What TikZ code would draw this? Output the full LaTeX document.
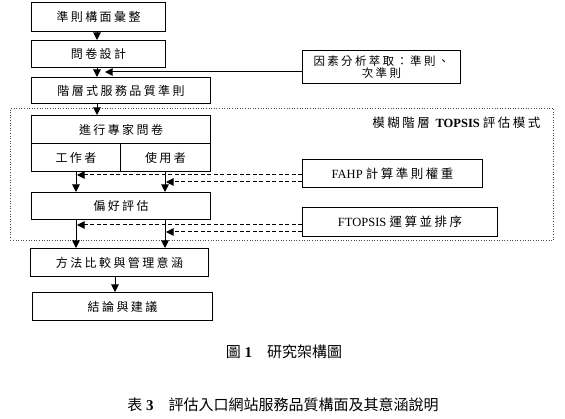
\documentclass[tikz,border=0pt]{standalone}
\usepackage{fontspec}
\setmainfont{Liberation Serif}
\newfontfamily\cjk[LetterSpace=20]{Noto Sans CJK TC}
\newfontfamily\cjkcap{Noto Sans CJK TC}
\usetikzlibrary{arrows.meta}
\tikzset{
  box/.style={draw, line width=1pt, inner sep=0pt, anchor=north west, font=\fontsize{12}{14}\selectfont},
  arr/.style={line width=1pt, -{Triangle[length=7.5pt,width=7.5pt]}},
  darr/.style={line width=1pt, dash pattern=on 4pt off 2.5pt, -{Triangle[length=7.5pt,width=7.5pt]}},
  captext/.style={font=\fontsize{15}{17}\selectfont},
}
\newcommand{\bx}[6]{\node[box, minimum width=#4pt-#2pt, minimum height=#5pt-#3pt] (#1) at (#2,#3) {#6};}
\begin{document}
\begin{tikzpicture}[x=1pt,y=-1pt]
\useasboundingbox (0,0) rectangle (565,419);
% dotted frame
\node[draw=black!70, dotted, line width=0.6pt, anchor=north west, minimum width=543pt, minimum height=132pt, inner sep=0pt] (frame) at (10,108) {};
\node[anchor=east, font=\fontsize{12.5}{14}\selectfont] (title) at (544,123) {{\cjk 模糊階層} \textbf{TOPSIS} {\cjk 評估模式}};
\bx{b1}{31}{2}{165}{31}{\cjk 準則構面彙整}
\bx{b2}{31}{40}{165}{67}{\cjk 問卷設計}
\bx{b3}{31}{77}{210}{103}{\cjk 階層式服務品質準則}
\node[box, minimum width=158pt, minimum height=33pt, align=center, font=\fontsize{11.5}{13}\selectfont] (fac) at (302,50) {\cjk 因素分析萃取：準則、\\[-1pt]\cjk 次準則};
\bx{b4}{31}{115}{210}{143}{\cjk 進行專家問卷}
\bx{b5a}{31}{143}{120}{171}{\cjk 工作者}
\bx{b5b}{120}{143}{210}{171}{\cjk 使用者}
\bx{b6}{31}{192}{210}{219}{\cjk 偏好評估}
\node[box, minimum width=180pt, minimum height=28pt, font=\fontsize{12.5}{14}\selectfont] (fahp) at (302,159) {FAHP {\cjk 計算準則權重}};
\node[box, minimum width=195pt, minimum height=29pt, font=\fontsize{12.5}{14}\selectfont] (ftop) at (302,207) {FTOPSIS {\cjk 運算並排序}};
\bx{b7}{30}{248}{208}{276}{\cjk 方法比較與管理意涵}
\bx{b8}{32}{292}{212}{320}{\cjk 結論與建議}
% arrows
\draw[arr] (b1.south -| 97,0) -- (b2.north -| 97,0);
\draw[arr] (b2.south -| 97,0) -- (b3.north -| 97,0);
\coordinate (fb) at (105,72);
\draw[arr] (fac.west |- fb) -- (fb);
\draw[arr] (b3.south -| 97,0) -- (b4.north -| 97,0);
\draw[arr] (b5a.south -| 76,0) -- (b6.north -| 76,0);
\draw[arr] (b5b.south -| 165,0) -- (b6.north -| 165,0);
\draw[arr] (b6.south -| 76,0) -- (b7.north -| 76,0);
\draw[arr] (b6.south -| 165,0) -- (b7.north -| 165,0);
\draw[arr] (b7.south -| 115,0) -- (b8.north -| 115,0);
% dashed
\coordinate (t1) at (77,175);
\coordinate (t2) at (166,182);
\coordinate (t3) at (77,225);
\coordinate (t4) at (166,232);
\draw[darr] (fahp.west |- t1) -- (t1);
\draw[darr] (fahp.west |- t2) -- (t2);
\draw[darr] (ftop.west |- t3) -- (t3);
\draw[darr] (ftop.west |- t4) -- (t4);
% captions
\node[captext] (cap1) at (284,352) {{\cjkcap 圖} \textbf{1}\quad{\cjkcap 研究架構圖}};
\node[captext] (cap2) at (283,405) {{\cjkcap 表} \textbf{3}\quad{\cjkcap 評估入口網站服務品質構面及其意涵說明}};
\end{tikzpicture}
\end{document}
